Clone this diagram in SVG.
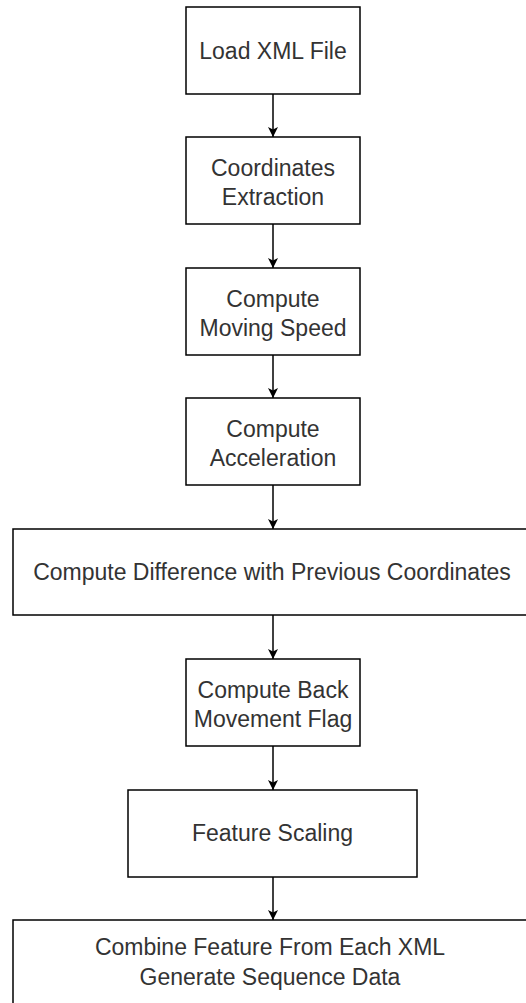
<svg xmlns="http://www.w3.org/2000/svg" width="526" height="1003" viewBox="0 0 526 1003">
<defs>
<marker id="ah" viewBox="0 0 10 10" refX="10" refY="5" markerWidth="10" markerHeight="10" markerUnits="userSpaceOnUse" orient="auto">
<path d="M0,0 L10,5 L0,10 L2.5,5 Z" fill="#000"/>
</marker>
<style>
.box{fill:#fff;stroke:#000;stroke-width:1.5}
.lbl{font-family:"Liberation Sans",Arial,Helvetica,sans-serif;font-size:23px;fill:#333;text-anchor:middle}
.edge{fill:none;stroke:#000;stroke-width:1.5;marker-end:url(#ah)}
</style>
</defs>
<rect width="526" height="1003" fill="#fff"/>
<g id="connectors">
<line class="edge" x1="273" y1="94" x2="273" y2="137"/>
<line class="edge" x1="273" y1="224" x2="273" y2="268"/>
<line class="edge" x1="273" y1="355" x2="273" y2="398"/>
<line class="edge" x1="273" y1="485" x2="273" y2="529"/>
<line class="edge" x1="273" y1="615" x2="273" y2="659"/>
<line class="edge" x1="273" y1="746" x2="273" y2="790"/>
<line class="edge" x1="273" y1="877" x2="273" y2="920"/>
</g>
<g id="n1"><rect class="box" x="186" y="7" width="174" height="87"/><text class="lbl" x="273" y="59">Load XML File</text></g>
<g id="n2"><rect class="box" x="186" y="137" width="174" height="87"/><text class="lbl" x="273" y="175.5">Coordinates</text><text class="lbl" x="273" y="205">Extraction</text></g>
<g id="n3"><rect class="box" x="186" y="268" width="174" height="87"/><text class="lbl" x="273" y="306.5">Compute</text><text class="lbl" x="273" y="336">Moving Speed</text></g>
<g id="n4"><rect class="box" x="186" y="398" width="174" height="87"/><text class="lbl" x="273" y="436.5">Compute</text><text class="lbl" x="273" y="466">Acceleration</text></g>
<g id="n5"><rect class="box" x="13" y="529" width="520" height="86"/><text class="lbl" x="272" y="580">Compute Difference with Previous Coordinates</text></g>
<g id="n6"><rect class="box" x="186" y="659" width="174" height="87"/><text class="lbl" x="273" y="697.5">Compute Back</text><text class="lbl" x="273" y="727">Movement Flag</text></g>
<g id="n7"><rect class="box" x="128" y="790" width="289" height="87"/><text class="lbl" x="272.5" y="841">Feature Scaling</text></g>
<g id="n8"><rect class="box" x="13" y="920" width="520" height="90"/><text class="lbl" x="270" y="955">Combine Feature From Each XML</text><text class="lbl" x="270" y="985">Generate Sequence Data</text></g>
</svg>
